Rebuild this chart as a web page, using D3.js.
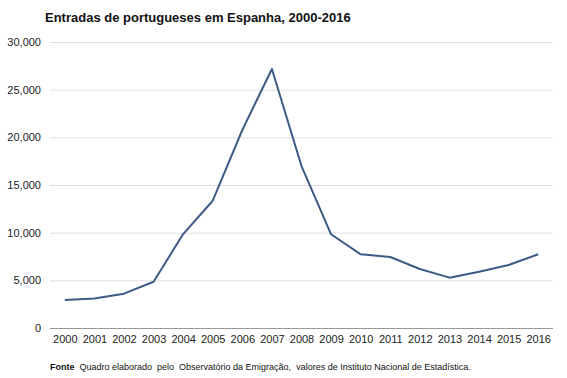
<!DOCTYPE html>
<html>
<head>
<meta charset="utf-8">
<style>
    body { margin: 0; background: #fff; }
    text { font-family: "Liberation Sans", Arial, sans-serif; }
</style>
</head>
<body>
<script src="https://d3js.org/d3.v7.min.js"></script>
<script>
    var years = ["2000", "2001", "2002", "2003", "2004", "2005", "2006", "2007", "2008",
        "2009", "2010", "2011", "2012", "2013", "2014", "2015", "2016"];
    var entradas = [2950, 3100, 3600, 4850, 9850, 13350, 20770, 27170, 16990,
        9830, 7730, 7450, 6190, 5280, 5900, 6610, 7730];
    var yTicks = [0, 5000, 10000, 15000, 20000, 25000, 30000];

    var W = 567, H = 378;
    var margin = { top: 42, right: 14, bottom: 50, left: 50 },
        width = W - margin.left - margin.right,
        height = H - margin.top - margin.bottom;

    var svg = d3.select("body").append("svg")
        .attr("width", W)
        .attr("height", H);

    svg.append("text")
        .attr("x", 45)
        .attr("y", 22)
        .attr("font-size", 13)
        .attr("font-weight", "bold")
        .attr("fill", "#111")
        .text("Entradas de portugueses em Espanha, 2000-2016");

    var g = svg.append("g").attr("transform", "translate(" + margin.left + "," + margin.top + ")");

    var x = d3.scalePoint().domain(years).range([0, width]).padding(0.5);
    var y = d3.scaleLinear().domain([0, 30000]).range([height, 0]);

    // gridlines
    g.append("g")
        .selectAll("line")
        .data(yTicks.filter(function (d) { return d > 0; }))
        .enter().append("line")
        .attr("x1", 0).attr("x2", width)
        .attr("y1", function (d) { return y(d) + 0.5; })
        .attr("y2", function (d) { return y(d) + 0.5; })
        .attr("stroke", "#dfdfdf");

    // y axis labels
    var yAxis = g.append("g")
        .call(d3.axisLeft(y).tickValues(yTicks).tickFormat(d3.format(",")).tickSize(0).tickPadding(9));
    yAxis.select(".domain").remove();
    yAxis.selectAll("text")
        .attr("font-size", 11)
        .attr("fill", "#222")
        .style("font-family", "Liberation Sans, Arial, sans-serif");

    // x axis
    var xAxis = g.append("g")
        .attr("transform", "translate(0," + height + ")")
        .call(d3.axisBottom(x).tickSize(0).tickPadding(7));
    xAxis.select(".domain").attr("stroke", "#999").attr("d", "M0,0.5H" + width);
    xAxis.selectAll("text")
        .attr("font-size", 11)
        .attr("fill", "#222")
        .style("font-family", "Liberation Sans, Arial, sans-serif");

    var line = d3.line()
        .x(function (d, i) { return x(years[i]); })
        .y(function (d) { return y(d); });

    g.append("path")
        .datum(entradas)
        .attr("fill", "none")
        .attr("stroke", "#3e5b85")
        .attr("stroke-width", 2)
        .attr("stroke-linejoin", "round")
        .attr("d", line);

    // source note
    var note = svg.append("text")
        .attr("x", 50)
        .attr("y", 370)
        .attr("font-size", 9)
        .attr("fill", "#111")
        .style("white-space", "pre");
    note.append("tspan").attr("font-weight", "bold").text("Fonte");
    note.append("tspan")
        .attr("font-family", "Liberation Sans Narrow, Liberation Sans, sans-serif")
        .text("  Quadro elaborado  pelo  Observatório da Emigração,  valores de Instituto Nacional de Estadística.");
</script>
</body>
</html>
